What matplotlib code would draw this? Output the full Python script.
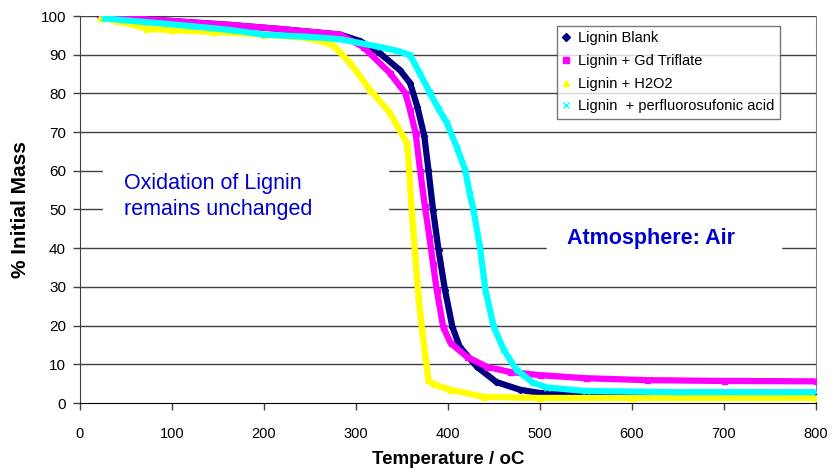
import matplotlib
matplotlib.use("Agg")
import matplotlib.pyplot as plt
from matplotlib.lines import Line2D

plt.rcParams['font.family'] = ['Liberation Sans', 'DejaVu Sans']

# Lignin Blank
T_blank = [22, 50, 100, 163, 220, 283, 305, 326, 348, 359, 367, 374.5, 379, 384, 390, 397, 405, 413, 432, 453, 479, 500, 550, 650, 800]
M_blank = [100, 99.5, 98.7, 97.7, 96.6, 95.2, 93.5, 90.4, 86, 82.7, 76.5, 69, 60.2, 49.9, 39.5, 29.2, 19.7, 14.5, 9.3, 5.4, 3.4, 2.6, 2.2, 2.0, 2.0]

# Lignin + Gd Triflate
T_gd = [22, 50, 100, 163, 220, 283, 308, 337, 354, 359, 365, 370, 375, 380, 384, 388, 395, 403, 421, 443, 468, 500, 550, 617, 700, 800]
M_gd = [100, 99.5, 98.7, 97.7, 96.6, 95.2, 92, 85.3, 80, 75.7, 69.8, 60, 51, 43, 36, 29.2, 19.7, 15.5, 11.9, 9.3, 8, 7.2, 6.4, 5.9, 5.7, 5.6]

# Lignin + H2O2
T_h2o2 = [22, 40, 73, 100, 145, 200, 250, 275, 294, 315.5, 337, 356, 358, 360, 362, 364.5, 368, 372, 375.5, 379, 385, 403, 439, 500, 600, 800]
M_h2o2 = [99.5, 98.8, 96.7, 96.3, 95.9, 95.2, 94.3, 92.5, 87.8, 80.9, 75, 67, 60, 52.5, 46, 38.5, 28, 19, 12.5, 5.9, 4.8, 3.4, 1.6, 1.3, 1.3, 1.3]

# Lignin + perfluorosufonic acid
T_pf = [25, 73, 120, 163, 200, 250, 283, 326, 345, 359, 370, 381, 390, 399, 410, 419, 424, 428, 435, 441, 450, 461, 475, 493, 508, 550, 650, 800]
M_pf = [99.4, 98.4, 97.4, 96.4, 95.2, 94.6, 94, 92, 91, 89.9, 85, 80, 76, 72.4, 66, 60.2, 54, 49.9, 40.3, 29.2, 19.7, 13.7, 8.5, 5.2, 4.0, 3.1, 2.8, 2.8]

labels = ["Lignin Blank", "Lignin + Gd Triflate", "Lignin + H2O2", "Lignin  + perfluorosufonic acid"]
x_ticks = [0, 100, 200, 300, 400, 500, 600, 700, 800]
y_ticks = [0, 10, 20, 30, 40, 50, 60, 70, 80, 90, 100]

fig = plt.figure(figsize=(8.33, 4.69), dpi=100)
ax = fig.add_axes([80/833, 66/469, 735.5/833, 387/469])
ax.set_xlim(0, 800)
ax.set_ylim(0, 100)

for y in y_ticks[1:]:
    ax.axhline(y, color='#404040', lw=1.0, zorder=1)

series = [
    (T_blank, M_blank, '#000080', 'D', 3.2),
    (T_gd, M_gd, '#FF00FF', 's', 3.6),
    (T_h2o2, M_h2o2, '#FFFF00', '^', 4.2),
    (T_pf, M_pf, '#00FFFF', 'x', 4.0),
]
handles = []
for (t, m, c, mk, ms), lab in zip(series, labels):
    ax.plot(t, m, color=c, lw=4.5, solid_capstyle='butt', solid_joinstyle='round', zorder=3)
    ax.plot(t, m, ls='none', marker=mk, color=c, ms=ms, mew=1.0, zorder=3)
    handles.append(Line2D([], [], ls='none', marker=mk, color=c, ms=4, mew=1))

ax.spines['top'].set_visible(False)
ax.spines['right'].set_color('#808080')
ax.spines['left'].set_color('#404040')
ax.spines['bottom'].set_color('#000000')

ax.set_xticks(x_ticks)
ax.set_yticks(y_ticks)
ax.tick_params(axis='both', direction='out', length=5, width=1, color='#404040')
ax.tick_params(axis='x', pad=12, labelsize=10.5)
ax.tick_params(axis='y', pad=5, labelsize=11)

ax.set_xlabel("Temperature / oC", fontsize=13.5, fontweight='bold', va='center')
ax.xaxis.set_label_coords(0.5, -0.146)
ax.set_ylabel("% Initial Mass", fontsize=15, fontweight='bold', labelpad=8)

# white backing behind the annotation text boxes
ax.fill_between([25, 335], 45, 67, color='white', zorder=2)
ax.fill_between([508, 763], 35, 45, color='white', zorder=2)

ax.text(48, 53.3, "Oxidation of Lignin\nremains unchanged", fontsize=15.5, color='#0000CC',
        ha='left', va='center', linespacing=1.3, zorder=4)
ax.text(621, 42.6, "Atmosphere: Air", fontsize=15.5, color='#0000CC', fontweight='bold',
        ha='center', va='center', zorder=4)

leg = ax.legend(handles, labels, loc='upper left', bbox_to_anchor=(0.6485, 0.974),
                fontsize=10.5, frameon=True, fancybox=False, handlelength=0.6,
                handletextpad=0.5, borderpad=0.35, labelspacing=0.6, borderaxespad=0)
leg.get_frame().set_edgecolor('#555555')
leg.get_frame().set_linewidth(1.0)
leg.set_zorder(5)

fig.savefig("out.png", dpi=100)
